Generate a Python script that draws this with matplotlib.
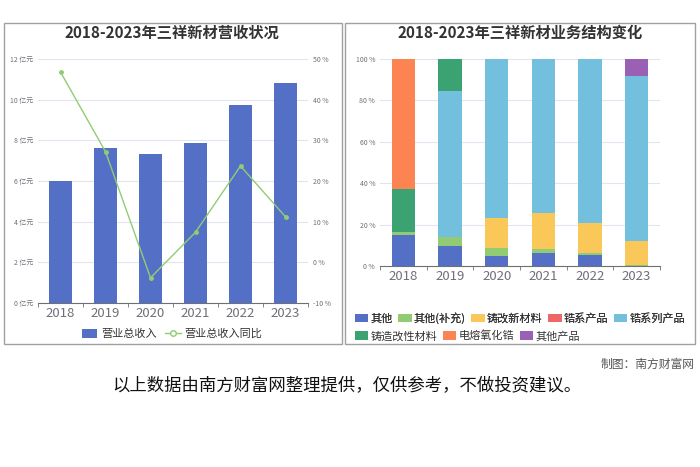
import matplotlib.pyplot as plt
import matplotlib.patches as mpatches
from matplotlib.lines import Line2D
import numpy as np

plt.rcParams['font.family'] = ['Noto Sans CJK SC', 'DejaVu Sans']

years = ['2018', '2019', '2020', '2021', '2022', '2023']
revenue = [6.00, 7.63, 7.34, 7.88, 9.75, 10.84]          # 亿元
revenue_yoy = [46.8, 27.2, -3.8, 7.4, 23.7, 11.2]          # %

seg_names = ['其他', '其他(补充)', '铸改新材料', '锆系产品', '锆系列产品',
             '铸造改性材料', '电熔氧化锆', '其他产品']
seg_other = [14.9, 9.8, 5.0, 6.1, 5.4, 0.0]
seg_other_sup = [1.4, 4.3, 3.5, 2.1, 0.8, 0.4]
seg_cast_new = [0.0, 0.0, 14.9, 17.3, 14.4, 11.7]
seg_zr_prod = [0.0, 0.0, 0.0, 0.0, 0.0, 0.0]
seg_zr_series = [0.0, 70.4, 76.6, 74.5, 79.4, 79.7]
seg_cast_mod = [20.7, 15.5, 0.0, 0.0, 0.0, 0.0]
seg_fused_zr = [63.0, 0.0, 0.0, 0.0, 0.0, 0.0]
seg_other_prod = [0.0, 0.0, 0.0, 0.0, 0.0, 8.2]

colors = ['#5470c6', '#91cc75', '#fac858', '#ee6666', '#73c0de',
          '#3ba272', '#fc8452', '#9a60b4']
GRID = '#e0e6f1'
TXT = '#6e7079'

W, H = 700, 467
fig = plt.figure(figsize=(7, 4.67), dpi=100)
fig.patch.set_facecolor('white')


def fx(px):
    return px / W


def fy(py):
    return 1 - py / H


# panel frames
for x0, x1 in [(4, 342), (345, 695)]:
    fig.add_artist(mpatches.Rectangle((fx(x0), fy(344)), fx(x1 - x0), (344 - 23) / H,
                                      transform=fig.transFigure, fill=False,
                                      edgecolor='#a0a0a0', linewidth=1.0))


def style_axis(ax):
    for s in ['top', 'right', 'left']:
        ax.spines[s].set_visible(False)
    ax.spines['bottom'].set_color(TXT)
    ax.spines['bottom'].set_linewidth(0.8)
    ax.yaxis.grid(True, color=GRID, linewidth=0.8)
    ax.set_axisbelow(True)
    ax.tick_params(axis='y', length=0, labelsize=5, labelcolor=TXT)
    ax.tick_params(axis='x', which='major', length=0, labelsize=9.5,
                   labelcolor=TXT, pad=3)
    ax.tick_params(axis='x', which='minor', length=3, color=TXT)


# ---- left: revenue ---------------------------------------------------------
ax1 = fig.add_axes([fx(38), fy(303), fx(270), 244 / H])
x = np.arange(len(years))
ax1.bar(x, revenue, width=0.53, color=colors[0], zorder=2)
ax1.set_xlim(-0.5, len(years) - 0.5)
ax1.set_ylim(0, 12)
ax1.set_yticks(range(0, 13, 2))
ax1.set_yticklabels([f'{v} 亿元' for v in range(0, 13, 2)])
ax1.set_xticks(x)
ax1.set_xticklabels(years)
ax1.set_xticks(np.arange(-0.5, len(years)), minor=True)
style_axis(ax1)

ax1b = ax1.twinx()
ax1b.plot(x, revenue_yoy, color=colors[1], linewidth=1.0, marker='o',
          markersize=2.5, markerfacecolor=colors[1], zorder=3)
ax1b.set_ylim(-10, 50)
ax1b.set_yticks(range(-10, 51, 10))
ax1b.set_yticklabels([f'{v} %' for v in range(-10, 51, 10)])
for s in ax1b.spines.values():
    s.set_visible(False)
ax1b.tick_params(axis='y', length=0, labelsize=5, labelcolor=TXT)

fig.text(fx(172), fy(33), '2018-2023年三祥新材营收状况', ha='center', va='center',
         fontsize=11, fontweight='bold', color='#333333')

h1 = [mpatches.Patch(facecolor=colors[0], edgecolor='none'),
      Line2D([0], [0], color=colors[1], linewidth=1, marker='o', markersize=4,
             markerfacecolor='white', markeredgecolor=colors[1])]
fig.legend(h1, ['营业总收入', '营业总收入同比'], loc='center', ncol=2,
           bbox_to_anchor=(fx(172), fy(334)), frameon=False, fontsize=8,
           handlelength=1.4, handleheight=0.8, handletextpad=0.3,
           columnspacing=0.8, labelcolor='#333333', borderpad=0)

# ---- right: business structure --------------------------------------------
ax2 = fig.add_axes([fx(380), fy(266), fx(280), 207 / H])
series = [seg_other, seg_other_sup, seg_cast_new, seg_zr_prod, seg_zr_series,
          seg_cast_mod, seg_fused_zr, seg_other_prod]
bottom = np.zeros(len(years))
for vals, c in zip(series, colors):
    v = np.array(vals)
    ax2.bar(x, v, bottom=bottom, width=0.5, color=c, zorder=2)
    bottom += v
ax2.set_xlim(-0.5, len(years) - 0.5)
ax2.set_ylim(0, 100)
ax2.set_yticks(range(0, 101, 20))
ax2.set_yticklabels([f'{v} %' for v in range(0, 101, 20)])
ax2.set_xticks(x)
ax2.set_xticklabels(years)
ax2.set_xticks(np.arange(-0.5, len(years)), minor=True)
style_axis(ax2)

fig.text(fx(520), fy(33), '2018-2023年三祥新材业务结构变化', ha='center', va='center',
         fontsize=11, fontweight='bold', color='#333333')

handles = [mpatches.Patch(facecolor=c, edgecolor='none') for c in colors]
leg_kw = dict(frameon=False, fontsize=8, handlelength=1.2, handleheight=0.8,
              handletextpad=0.2, columnspacing=0.5, labelcolor='#333333',
              borderpad=0, borderaxespad=0)
leg_a = fig.legend(handles[:5], seg_names[:5], loc='center left', ncol=5,
                   bbox_to_anchor=(fx(355), fy(318)), **leg_kw)
fig.add_artist(leg_a)
fig.legend(handles[5:], seg_names[5:], loc='center left', ncol=3,
           bbox_to_anchor=(fx(355), fy(336)), **leg_kw)

# ---- footer ----------------------------------------------------------------
fig.text(fx(695), fy(364), '制图：南方财富网', ha='right', va='center',
         fontsize=8.5, color='#555555')
fig.text(fx(347), fy(386), '以上数据由南方财富网整理提供，仅供参考，不做投资建议。',
         ha='center', va='center', fontsize=12.5, color='#111111')

fig.savefig('out.png', dpi=100, facecolor='white')
